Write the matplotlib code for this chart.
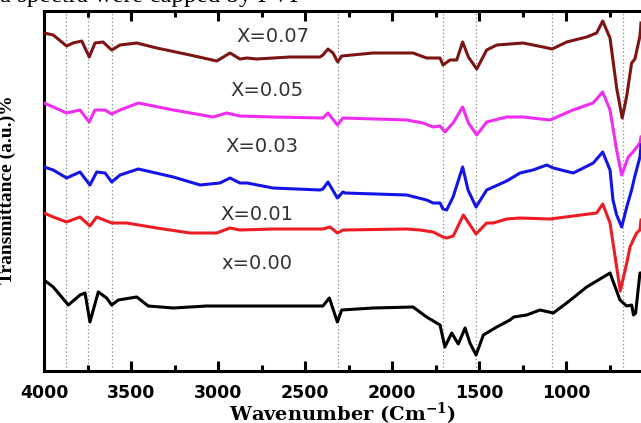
import matplotlib.pyplot as plt
from matplotlib.ticker import MultipleLocator

# FTIR spectra, wavenumber (cm-1) vs transmittance (a.u.), stacked by composition
wn_007 = [4000, 3947, 3870, 3833, 3783, 3740, 3707, 3661, 3611, 3563, 3467, 3352, 3161, 3007,
          2931, 2874, 2833, 2778, 2586, 2414, 2397, 2368, 2339, 2312, 2289, 2109, 1879, 1801,
          1724, 1707, 1667, 1628, 1594, 1561, 1513, 1456, 1398, 1247, 1132, 1080, 996, 881,
          824, 789, 747, 709, 677, 651, 623, 604, 575, 569]
tr_007 = [338, 336, 325, 328, 330, 314, 328, 329, 321, 326, 328, 323, 316, 310,
          318, 312, 313, 312, 314, 314, 316, 322, 318, 309, 315, 318, 318, 313,
          313, 306, 311, 311, 329, 314, 302, 321, 326, 328, 324, 322, 329, 334,
          338, 350, 333, 283, 253, 275, 308, 312, 335, 348]

wn_005 = [4000, 3947, 3870, 3793, 3740, 3707, 3649, 3611, 3563, 3458, 3257, 3027, 2950, 2874,
          2684, 2397, 2368, 2314, 2282, 1916, 1822, 1764, 1724, 1696, 1649, 1594, 1561, 1513,
          1456, 1341, 1247, 1092, 960, 845, 789, 747, 709, 680, 642, 615, 575, 569]
tr_005 = [268, 264, 258, 261, 249, 261, 261, 257, 261, 268, 261, 254, 258, 255,
          254, 253, 258, 246, 253, 251, 248, 244, 245, 239, 248, 264, 248, 236,
          249, 254, 254, 251, 261, 268, 279, 261, 221, 196, 214, 219, 228, 234]

wn_003 = [4000, 3947, 3870, 3793, 3736, 3697, 3649, 3611, 3563, 3458, 3257, 3103, 2989, 2931,
          2874, 2833, 2684, 2414, 2397, 2368, 2314, 2282, 2270, 1916, 1801, 1764, 1724, 1707,
          1686, 1649, 1594, 1563, 1517, 1456, 1341, 1264, 1190, 1111, 1073, 958, 843, 789,
          747, 730, 709, 680, 651, 623, 604, 575, 569]
tr_003 = [204, 201, 193, 199, 186, 199, 198, 189, 196, 202, 194, 186, 188, 193,
          188, 188, 183, 181, 182, 189, 173, 179, 178, 176, 171, 168, 168, 162,
          161, 174, 204, 181, 164, 181, 190, 198, 201, 206, 203, 198, 208, 219,
          201, 171, 156, 144, 164, 181, 195, 214, 226]

wn_001 = [4000, 3947, 3870, 3793, 3736, 3697, 3640, 3611, 3525, 3352, 3161, 3007, 2931, 2874,
          2684, 2397, 2356, 2314, 2282, 1916, 1839, 1764, 1707, 1686, 1648, 1590, 1517, 1456,
          1418, 1341, 1264, 1092, 824, 789, 747, 709, 688, 651, 632, 614, 594, 575, 569]
tr_001 = [158, 154, 149, 154, 145, 154, 150, 148, 148, 143, 138, 138, 143, 141,
          142, 142, 144, 138, 141, 142, 141, 139, 134, 133, 135, 156, 137, 148,
          148, 152, 153, 152, 158, 167, 148, 104, 80, 108, 124, 131, 138, 141, 151]

wn_000 = [4000, 3947, 3860, 3793, 3764, 3736, 3688, 3640, 3611, 3573, 3467, 3401, 3257, 3065,
          2874, 2397, 2360, 2314, 2289, 2109, 1879, 1801, 1724, 1696, 1657, 1619, 1580, 1552,
          1517, 1475, 1398, 1322, 1300, 1226, 1150, 1073, 996, 881, 843, 766, 747, 690,
          651, 623, 612, 600, 575, 569]
tr_000 = [91, 84, 66, 76, 78, 49, 79, 73, 66, 71, 74, 65, 63, 65,
          65, 65, 73, 49, 61, 63, 64, 54, 46, 24, 38, 27, 43, 28,
          16, 36, 44, 51, 54, 56, 61, 58, 68, 84, 88, 96, 98, 71,
          65, 66, 56, 58, 98, 98]

labels = ["X=0.07", "X=0.05", "X=0.03", "X=0.01", "x=0.00"]
colors = ["#7d1414", "#f02cf0", "#1414e6", "#ec1c24", "#000000"]
label_pos = [(2684, 335), (2718, 281), (2747, 225), (2776, 157), (2776, 108)]

# reference band positions marked with dotted lines
bands = [3874, 3747, 3609, 2310, 1707, 1517, 1080, 672]

plt.rcParams["mathtext.fontset"] = "dejavuserif"

fig = plt.figure(figsize=(6.41, 4.23), dpi=100)
ax = fig.add_axes([44 / 641, 1 - 371 / 423, 597 / 641, 360 / 423])

for b in bands:
    ax.axvline(b, color="#8a8a8a", lw=0.9, ls=(0, (1, 2)), zorder=1)

series = [(wn_007, tr_007), (wn_005, tr_005), (wn_003, tr_003), (wn_001, tr_001), (wn_000, tr_000)]
for (wn, tr), c in zip(series, colors):
    ax.plot(wn, tr, color=c, lw=2.2, solid_joinstyle="round", zorder=3)

for lab, (px, py) in zip(labels, label_pos):
    ax.text(px, py, lab, color="#333333", fontsize=14, family="DejaVu Sans",
            ha="center", va="center")

ax.set_xlim(4000, 569)
ax.set_ylim(0, 360)

ax.xaxis.set_major_locator(MultipleLocator(500))
ax.xaxis.set_minor_locator(MultipleLocator(250))
ax.tick_params(axis="x", which="major", direction="in", top=True, length=7, width=2.2,
               labelsize=12.5, pad=9)
ax.tick_params(axis="x", which="minor", direction="in", top=True, length=4, width=2.2)
for t in ax.get_xticklabels():
    t.set_fontweight("bold")
ax.set_yticks([])

for side in ["left", "bottom", "top"]:
    ax.spines[side].set_linewidth(2.2)
ax.spines["right"].set_visible(False)

ax.set_xlabel(r"Wavenumber (Cm$^{\mathbf{-1}}$)", fontsize=14, fontweight="bold",
              family="DejaVu Serif")
ax.xaxis.set_label_coords(0.499, -0.082)
ax.set_ylabel("Transmittance (a.u.)%", fontsize=14, fontweight="bold",
              family="Liberation Serif")
ax.yaxis.set_label_coords(-0.047, 0.503)

# running text from the page above the figure, mostly cut off
fig.text(0.0, 1 - 2 / 423, "a spectra were capped by PVP", fontsize=18,
         family="Liberation Serif", va="baseline", ha="left")

fig.savefig("out.png", dpi=100)
